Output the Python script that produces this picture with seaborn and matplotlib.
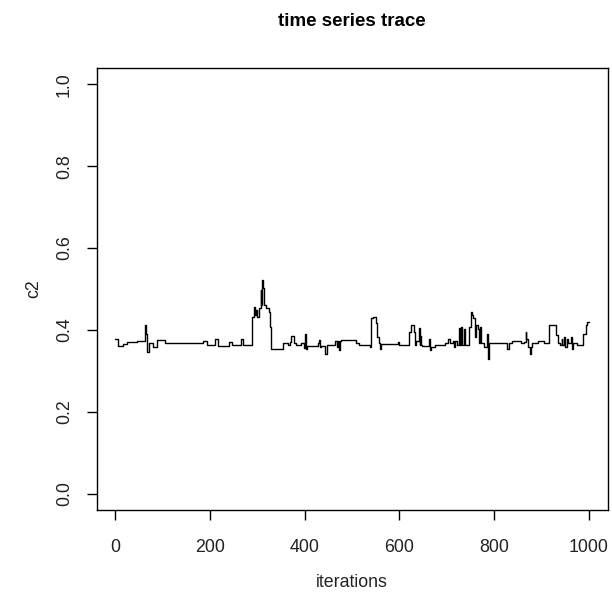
import matplotlib
matplotlib.use("Agg")
import matplotlib.pyplot as plt
import numpy as np
import pandas as pd
import seaborn as sns

# MCMC trace of c2: iteration at which the chain moves, and the value it holds from there
change_iter = [1, 7, 16, 25, 46, 63, 66, 68, 71, 80, 89, 105, 186, 194, 212, 218, 240, 247,
               266, 270, 288, 293, 295, 298, 300, 303, 307, 309, 311, 313, 315, 318, 325,
               327, 330, 354, 364, 369, 372, 378, 382, 392, 398, 401, 403, 405, 428, 431,
               433, 435, 444, 447, 465, 469, 471, 473, 475, 477, 509, 515, 538, 541, 544,
               550, 553, 556, 559, 561, 596, 600, 621, 624, 630, 632, 636, 641, 643, 644,
               646, 648, 663, 665, 667, 676, 697, 703, 706, 712, 715, 717, 722, 725, 727,
               729, 731, 737, 739, 747, 750, 752, 754, 756, 760, 762, 765, 768, 770, 772,
               779, 784, 787, 789, 792, 827, 831, 838, 856, 862, 866, 868, 872, 875, 877,
               880, 883, 893, 904, 915, 930, 935, 939, 942, 944, 948, 950, 953, 956, 962,
               964, 966, 974, 987, 993, 996, 1000]
change_val = [0.377, 0.360, 0.366, 0.371, 0.374, 0.412, 0.390, 0.346, 0.368, 0.359, 0.375,
              0.368, 0.372, 0.364, 0.378, 0.360, 0.371, 0.364, 0.377, 0.363, 0.432, 0.457,
              0.436, 0.449, 0.432, 0.453, 0.498, 0.461, 0.522, 0.502, 0.461, 0.453, 0.444,
              0.408, 0.354, 0.369, 0.363, 0.371, 0.385, 0.369, 0.363, 0.367, 0.355, 0.391,
              0.354, 0.360, 0.369, 0.375, 0.358, 0.360, 0.340, 0.363, 0.373, 0.358, 0.373,
              0.350, 0.373, 0.376, 0.367, 0.363, 0.358, 0.430, 0.432, 0.416, 0.383, 0.369,
              0.354, 0.365, 0.371, 0.363, 0.395, 0.413, 0.395, 0.363, 0.372, 0.405, 0.363,
              0.385, 0.363, 0.360, 0.378, 0.350, 0.358, 0.363, 0.367, 0.377, 0.367, 0.374,
              0.358, 0.372, 0.363, 0.405, 0.363, 0.407, 0.363, 0.403, 0.363, 0.407, 0.428,
              0.444, 0.436, 0.428, 0.382, 0.411, 0.403, 0.367, 0.407, 0.367, 0.358, 0.391,
              0.330, 0.367, 0.368, 0.354, 0.367, 0.372, 0.367, 0.371, 0.395, 0.378, 0.358,
              0.341, 0.358, 0.369, 0.367, 0.372, 0.369, 0.412, 0.387, 0.369, 0.363, 0.378,
              0.363, 0.382, 0.358, 0.377, 0.367, 0.382, 0.354, 0.367, 0.363, 0.391, 0.412,
              0.419, 0.419]

x_ticks = [0, 200, 400, 600, 800, 1000]
y_ticks = [0.0, 0.2, 0.4, 0.6, 0.8, 1.0]
y_tick_labels = ["0.0", "0.2", "0.4", "0.6", "0.8", "1.0"]

sns.set_style("white")
plt.rcParams["font.family"] = ["Liberation Sans", "DejaVu Sans"]

trace = pd.DataFrame({"iterations": change_iter, "c2": change_val})

fig = plt.figure(figsize=(6.12, 5.99), dpi=100)
ax = fig.add_axes([96.5 / 612, 1 - 510 / 599, (608 - 96.5) / 612, (510 - 68) / 599])

sns.lineplot(data=trace, x="iterations", y="c2", ax=ax, color="black",
             linewidth=1.0, drawstyle="steps-post", estimator=None, sort=False)

ax.set_xlim(-39, 1040)
ax.set_ylim(-0.04, 1.04)
ax.set_xticks(x_ticks)
ax.set_xticklabels([str(t) for t in x_ticks])
ax.set_yticks(y_ticks)
ax.set_yticklabels(y_tick_labels, rotation=90, va="center")

for side in ["top", "right", "bottom", "left"]:
    ax.spines[side].set_visible(True)
    ax.spines[side].set_color("black")
    ax.spines[side].set_linewidth(1.0)

ax.tick_params(axis="both", which="major", direction="out", length=7, width=1.0,
               color="black", labelcolor="#222222", labelsize=12.8, pad=14,
               bottom=True, left=True)
ax.tick_params(axis="y", pad=10)

ax.set_xlabel("iterations", fontsize=12.8, color="#222222", labelpad=13)
ax.set_ylabel("c2", fontsize=12.8, color="#222222", labelpad=10)
fig.text(352 / 612, 1 - 22 / 599, "time series trace", ha="center", va="center",
         fontsize=13.5, fontweight="bold", color="black")

fig.savefig("out.png", dpi=100, facecolor="white")
